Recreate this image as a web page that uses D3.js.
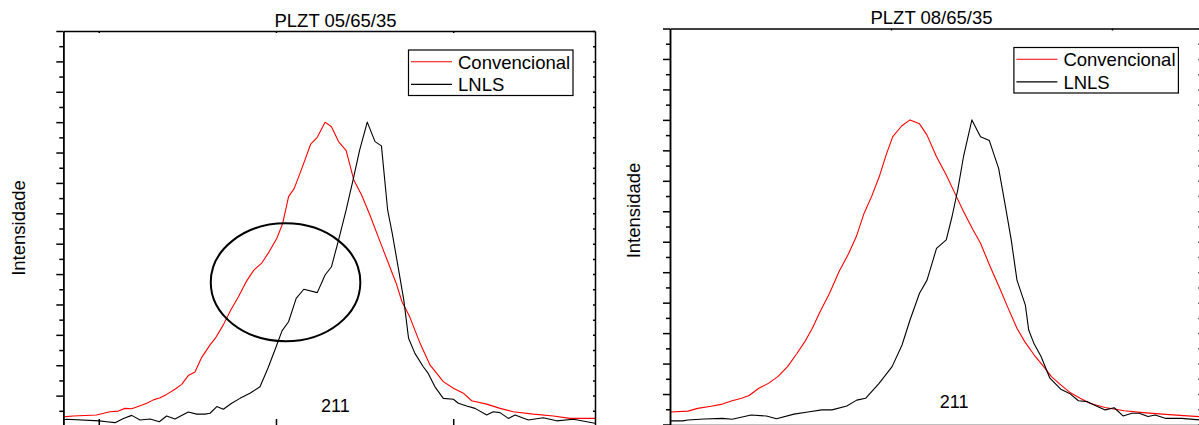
<!DOCTYPE html>
<html>
<head>
<meta charset="utf-8">
<script src="https://cdn.jsdelivr.net/npm/d3@7/dist/d3.min.js"></script>
<style>
  body { margin: 0; background: #fff; }
  text { font-family: "Liberation Sans", Arial, sans-serif; fill: #000; }
</style>
</head>
<body>
<svg id="chart" width="1199" height="425"></svg>
<script>
// Legend / series names
var SERIES_NAMES = ["Convencional", "LNLS"];
var SERIES_COLORS = ["#ff0000", "#000000"];

// Axis ticks (2theta, degrees) and normalised intensity
var X_TICKS_0565 = [54, 55, 56];
var X_TICKS_0865 = [55, 56];
var Y_MAJOR = d3.range(0, 14).map(function (i) { return i * 0.1; });
var Y_MINOR = d3.range(0, 13).map(function (i) { return i * 0.1 + 0.05; });

// PLZT 05/65/35, [2theta, intensity]
var CONV_0565 = [
  [53.800, 0.030], [53.856, 0.033], [53.988, 0.036], [54.063, 0.047], [54.110, 0.049],
  [54.148, 0.058], [54.186, 0.057], [54.233, 0.067], [54.271, 0.075], [54.308, 0.086],
  [54.346, 0.093], [54.383, 0.104], [54.430, 0.121], [54.468, 0.137], [54.505, 0.166],
  [54.543, 0.178], [54.581, 0.226], [54.628, 0.267], [54.658, 0.289], [54.702, 0.332],
  [54.745, 0.382], [54.789, 0.426], [54.832, 0.475], [54.875, 0.513], [54.918, 0.535],
  [54.962, 0.574], [55.005, 0.618], [55.038, 0.667], [55.071, 0.755], [55.103, 0.782],
  [55.146, 0.848], [55.196, 0.928], [55.233, 0.950], [55.277, 1.000], [55.313, 0.985],
  [55.353, 0.936], [55.396, 0.906], [55.439, 0.810], [55.483, 0.760], [55.526, 0.700],
  [55.591, 0.601], [55.635, 0.535], [55.678, 0.470], [55.711, 0.409], [55.754, 0.360],
  [55.813, 0.272], [55.869, 0.201], [55.944, 0.146], [56.001, 0.124], [56.057, 0.108],
  [56.104, 0.083], [56.189, 0.072], [56.264, 0.058], [56.339, 0.047], [56.452, 0.039],
  [56.565, 0.033], [56.659, 0.025], [56.800, 0.025]
];
var LNLS_0565 = [
  [53.800, 0.020], [53.819, 0.022], [54.003, 0.017], [54.045, 0.014], [54.092, 0.011],
  [54.139, 0.025], [54.186, 0.035], [54.233, 0.020], [54.289, 0.023], [54.342, 0.014],
  [54.383, 0.033], [54.430, 0.023], [54.505, 0.046], [54.553, 0.039], [54.600, 0.039],
  [54.628, 0.042], [54.666, 0.064], [54.703, 0.055], [54.750, 0.075], [54.797, 0.091],
  [54.853, 0.108], [54.910, 0.129], [54.955, 0.191], [54.994, 0.250], [55.034, 0.313],
  [55.071, 0.343], [55.114, 0.420], [55.157, 0.450], [55.233, 0.439], [55.277, 0.497],
  [55.313, 0.524], [55.353, 0.612], [55.396, 0.711], [55.435, 0.810], [55.472, 0.908],
  [55.515, 1.000], [55.559, 0.936], [55.595, 0.922], [55.630, 0.711], [55.656, 0.634],
  [55.689, 0.524], [55.721, 0.415], [55.748, 0.289], [55.784, 0.239], [55.831, 0.195],
  [55.859, 0.173], [55.897, 0.129], [55.944, 0.091], [56.001, 0.088], [56.029, 0.075],
  [56.076, 0.066], [56.123, 0.058], [56.189, 0.036], [56.226, 0.047], [56.264, 0.044],
  [56.311, 0.025], [56.349, 0.036], [56.424, 0.020], [56.508, 0.027], [56.584, 0.017],
  [56.678, 0.022], [56.800, 0.009]
];

// PLZT 08/65/35, [2theta, intensity]
var CONV_0865 = [
  [54.000, 0.041], [54.081, 0.044], [54.125, 0.053], [54.186, 0.060], [54.237, 0.067],
  [54.281, 0.078], [54.324, 0.086], [54.358, 0.095], [54.402, 0.119], [54.445, 0.135],
  [54.488, 0.157], [54.532, 0.190], [54.575, 0.234], [54.610, 0.272], [54.644, 0.316],
  [54.679, 0.370], [54.722, 0.431], [54.765, 0.502], [54.809, 0.562], [54.843, 0.617],
  [54.878, 0.693], [54.912, 0.748], [54.947, 0.814], [54.978, 0.885], [55.008, 0.945],
  [55.048, 0.980], [55.086, 1.000], [55.129, 0.987], [55.163, 0.950], [55.206, 0.879],
  [55.250, 0.819], [55.293, 0.753], [55.328, 0.699], [55.371, 0.639], [55.405, 0.595],
  [55.449, 0.518], [55.492, 0.447], [55.527, 0.387], [55.570, 0.316], [55.605, 0.272],
  [55.648, 0.228], [55.691, 0.190], [55.726, 0.157], [55.760, 0.135], [55.812, 0.104],
  [55.856, 0.086], [55.899, 0.070], [55.968, 0.056], [56.055, 0.045], [56.141, 0.039],
  [56.228, 0.034], [56.308, 0.030], [56.394, 0.026], [56.403, 0.025]
];
var LNLS_0865 = [
  [54.000, 0.012], [54.058, 0.012], [54.081, 0.015], [54.155, 0.018], [54.237, 0.020],
  [54.281, 0.017], [54.367, 0.031], [54.436, 0.028], [54.482, 0.019], [54.561, 0.034],
  [54.624, 0.041], [54.687, 0.048], [54.733, 0.048], [54.800, 0.061], [54.845, 0.080],
  [54.885, 0.086], [54.946, 0.135], [55.005, 0.190], [55.050, 0.261], [55.086, 0.343],
  [55.129, 0.431], [55.163, 0.474], [55.206, 0.578], [55.250, 0.606], [55.276, 0.682],
  [55.302, 0.770], [55.328, 0.879], [55.366, 1.000], [55.405, 0.945], [55.445, 0.932],
  [55.487, 0.841], [55.518, 0.715], [55.544, 0.606], [55.570, 0.474], [55.608, 0.392],
  [55.623, 0.310], [55.648, 0.264], [55.679, 0.223], [55.719, 0.152], [55.768, 0.116],
  [55.808, 0.102], [55.848, 0.078], [55.889, 0.075], [55.929, 0.061], [55.969, 0.048],
  [56.010, 0.055], [56.050, 0.028], [56.090, 0.037], [56.123, 0.037], [56.163, 0.026],
  [56.195, 0.031], [56.244, 0.020], [56.316, 0.020], [56.394, 0.015], [56.403, 0.014]
];

// Annotations (data units)
var PEAK_LABEL = "211";
var LABEL_0565 = [55.335, 0.045];
var LABEL_0865 = [55.286, 0.053];
var ELLIPSE_0565 = { cx: 55.054, cy: 0.473, rx: 0.422, ry: 0.194 };

// Frame thickness
var AXIS_W = 1.5;

var svg = d3.select("#chart");

function draw_panel(p) {
  var x = d3.scaleLinear().domain(p.xDomain).range([p.left, p.right]);
  var y = d3.scaleLinear().domain([0, 1.3]).range([p.bottom, p.top]);
  var g = svg.append("g");

  // series
  var line = d3.line()
    .x(function (d) { return x(d[0]); })
    .y(function (d) { return y(d[1]); });
  p.series.forEach(function (s, i) {
    g.append("path")
      .datum(s)
      .attr("fill", "none")
      .attr("stroke", SERIES_COLORS[i])
      .attr("stroke-width", 1.1)
      .attr("stroke-linejoin", "round")
      .attr("d", line);
  });

  // axes
  function style_axis(sel) {
    sel.select(".domain").attr("stroke-width", AXIS_W);
    sel.selectAll(".tick line").attr("stroke-width", AXIS_W);
    sel.selectAll(".tick text").remove();
  }
  g.append("g")
    .attr("transform", "translate(" + p.left + ",0)")
    .call(d3.axisLeft(y).tickValues(Y_MINOR).tickSize(4).tickSizeOuter(0))
    .call(style_axis);
  g.append("g")
    .attr("transform", "translate(" + p.left + ",0)")
    .call(d3.axisLeft(y).tickValues(Y_MAJOR).tickSize(7).tickSizeOuter(0))
    .call(style_axis);
  g.append("g")
    .attr("transform", "translate(0," + p.top + ")")
    .call(d3.axisBottom(x).tickValues(p.xTicks).tickSize(2).tickSizeOuter(0))
    .call(style_axis);
  g.append("g")
    .attr("transform", "translate(0," + p.bottomLine + ")")
    .call(d3.axisBottom(x).tickValues(p.xTicks)
      .tickSize(p.bottomTicksIn ? -7 : 6).tickSizeOuter(0))
    .call(style_axis);
  if (p.rightFrame) {
    g.append("g")
      .attr("transform", "translate(" + p.right + ",0)")
      .call(d3.axisRight(y).tickValues(Y_MAJOR.concat(Y_MINOR))
        .tickSize(-2).tickSizeOuter(0))
      .call(style_axis);
  }

  // title and y label
  g.append("text")
    .attr("x", p.titleX)
    .attr("y", p.titleY)
    .attr("text-anchor", "middle")
    .style("font-size", "18.5px")
    .text(p.title);
  g.append("text")
    .attr("transform", "translate(" + p.yLabelX + "," + p.yLabelY + ") rotate(-90)")
    .attr("text-anchor", "middle")
    .style("font-size", "18.5px")
    .text("Intensidade");

  // peak label
  g.append("text")
    .attr("x", x(p.label[0]))
    .attr("y", y(p.label[1]))
    .attr("text-anchor", "middle")
    .style("font-size", "18px")
    .text(PEAK_LABEL);

  if (p.ellipse) {
    g.append("ellipse")
      .attr("cx", x(p.ellipse.cx))
      .attr("cy", y(p.ellipse.cy))
      .attr("rx", x(p.ellipse.cx + p.ellipse.rx) - x(p.ellipse.cx))
      .attr("ry", y(p.ellipse.cy) - y(p.ellipse.cy + p.ellipse.ry))
      .attr("fill", "none")
      .attr("stroke", "#000")
      .attr("stroke-width", 2);
  }

  // legend
  var lg = g.append("g")
    .attr("transform", "translate(" + (p.right - 186.5) + "," + (p.top + 19) + ")");
  lg.append("rect")
    .attr("width", 164.5)
    .attr("height", 45.5)
    .attr("fill", "#fff")
    .attr("stroke", "#000")
    .attr("stroke-width", 1.2);
  SERIES_NAMES.forEach(function (name, i) {
    var ly = 11.7 + i * 22.7;
    lg.append("line")
      .attr("x1", 2.5).attr("x2", 43.5)
      .attr("y1", ly).attr("y2", ly)
      .attr("stroke", SERIES_COLORS[i])
      .attr("stroke-width", 1.1);
    lg.append("text")
      .attr("x", 49.5)
      .attr("y", ly + 6.8)
      .style("font-size", "18.5px")
      .text(name);
  });
}

draw_panel({
  left: 63.3, right: 595, top: 31, bottom: 426, bottomLine: 426,
  xDomain: [53.8, 56.8], xTicks: X_TICKS_0565,
  bottomTicksIn: true, rightFrame: true,
  title: "PLZT 05/65/35", titleX: 335.5, titleY: 26.7,
  yLabelX: 25, yLabelY: 228,
  series: [CONV_0565, LNLS_0565],
  label: LABEL_0565, ellipse: ELLIPSE_0565
});

draw_panel({
  left: 670, right: 1200.4, top: 28.5, bottom: 424.5, bottomLine: 425,
  xDomain: [54, 56.4], xTicks: X_TICKS_0865,
  bottomTicksIn: false, rightFrame: true,
  title: "PLZT 08/65/35", titleX: 931.5, titleY: 24,
  yLabelX: 640, yLabelY: 210.5,
  series: [CONV_0865, LNLS_0865],
  label: LABEL_0865, ellipse: null
});
</script>
</body>
</html>
